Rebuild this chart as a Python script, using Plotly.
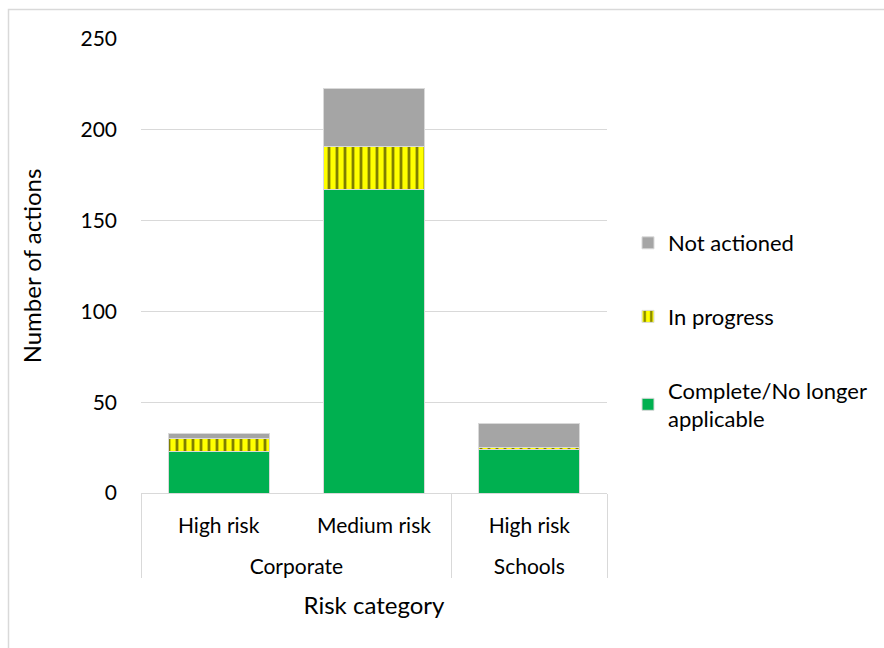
import plotly.graph_objects as go

groups = ["Corporate", "Corporate", "Schools"]
risks = ["High risk", "Medium risk", "High risk"]
complete = [23, 167, 24]
in_progress = [7, 24, 1]
not_actioned = [3, 32, 13]

FONT = "Lato"
W, H = 884, 648
L, R, T, B = 141, 277, 39, 155

fig = go.Figure()
# leading line break spaces the outer category row like the original
x = [["<br>" + g for g in groups], risks]
line = dict(color="#d9d9d9", width=1)
fig.add_trace(go.Bar(x=x, y=complete, name="Complete/No longer<br>applicable",
                     marker=dict(color="#00b050", line=line), legendgroup="c", legendrank=3))
fig.add_trace(go.Bar(x=x, y=in_progress, name="In progress",
                     marker=dict(color="#ffff00", line=line,
                                 pattern=dict(shape="|", bgcolor="#ffff00", fgcolor="#000000",
                                              size=8, solidity=0.35, fillmode="overlay")),
                     legendgroup="p", legendrank=2))
fig.add_trace(go.Bar(x=x, y=not_actioned, name="Not actioned",
                     marker=dict(color="#a5a5a5", line=line), legendgroup="n", legendrank=1))

pw = W - L - R
ph = H - T - B


def px(v):
    return (v - L) / pw


def py(v):
    return (H - B - v) / ph


fig.update_layout(
    width=W, height=H, barmode="stack", bargap=0.35,
    margin=dict(l=L, r=R, t=T, b=B, autoexpand=False),
    paper_bgcolor="white", plot_bgcolor="white",
    font=dict(family=FONT, size=21, color="#000000"),
    legend=dict(x=px(628), y=py(222), xanchor="left", yanchor="top",
                traceorder="grouped", tracegroupgap=42,
                font=dict(size=22), itemwidth=30, bgcolor="rgba(0,0,0,0)"),
    xaxis=dict(type="multicategory", showline=True, linecolor="#d9d9d9", linewidth=1,
               showdividers=True, dividercolor="#d9d9d9", dividerwidth=1,
               tickfont=dict(size=21), ticks="", ticklabelstandoff=14,
               title=dict(text="Risk category", font=dict(size=24), standoff=20)),
    yaxis=dict(range=[0, 250], dtick=50, showgrid=True, gridcolor="#d9d9d9", gridwidth=1,
               zeroline=False, tickfont=dict(size=21), ticklabelstandoff=23,
               title=dict(text="Number of actions", font=dict(size=24), standoff=32)),
)
# outer chart border
fig.add_shape(type="rect", xref="paper", yref="paper",
              x0=px(8.5), x1=px(900), y0=py(700), y1=py(9.5),
              line=dict(color="#d9d9d9", width=1.5), layer="below")
fig.write_html("out.html")
